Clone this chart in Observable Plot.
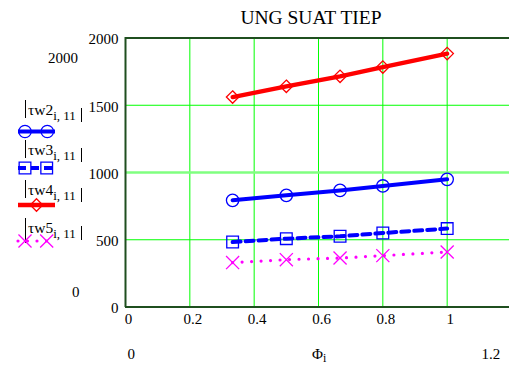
<!DOCTYPE html>
<html>
<head>
<meta charset="utf-8">
<script src="https://cdn.jsdelivr.net/npm/d3@7"></script>
<script src="https://cdn.jsdelivr.net/npm/@observablehq/plot@0.6"></script>
<style>
  html, body { margin: 0; padding: 0; background: #fff; }
  #wrap { position: relative; width: 509px; height: 365px; overflow: hidden; }
  #wrap > svg { position: absolute; left: 0; top: 0; }
  #wrap svg text { font-family: "Liberation Serif", "Times New Roman", serif; }
</style>
</head>
<body>
<div id="wrap"></div>
<script>
// ---- data ----
const phi = [0.333, 0.5, 0.667, 0.8, 1];
const tw2 = [793, 830, 867, 900, 949];
const tw3 = [483, 508, 526, 550, 583];
const tw4 = [1561, 1641, 1715, 1784, 1884];
const tw5 = [330, 352, 364, 382, 409];
const xTicks = [0, 0.2, 0.4, 0.6, 0.8, 1];
const yTicks = [0, 500, 1000, 1500, 2000];
const xGrid = [0.2, 0.4, 0.6, 0.8, 1];
const yGrid = [500, 1500];
const yGridLight = [1000];
const seriesNames = ["τw2", "τw3", "τw4", "τw5"];

const rows = (ys) => phi.map((x, i) => ({x, y: ys[i]}));
const font = "Liberation Serif, Times New Roman, serif";
const frameColor = "#1f4f1f";

const chart = Plot.plot({
  width: 509,
  height: 365,
  marginLeft: 125,
  marginTop: 37,
  marginBottom: 58,
  marginRight: 0,
  style: {background: "white", fontFamily: font, fontSize: "15px", color: "black", overflow: "visible"},
  x: {domain: [0, 1.2], range: [125, 511], label: null},
  y: {domain: [0, 2000], range: [306.5, 37.5], label: null},
  marks: [
    Plot.ruleX(xGrid, {stroke: "#00ff00", strokeWidth: 1}),
    Plot.ruleY(yGrid, {stroke: "#00ff00", strokeWidth: 1}),
    Plot.ruleY(yGridLight, {stroke: "#80ff80", strokeWidth: 2.5}),
    Plot.ruleX([0], {stroke: frameColor, strokeWidth: 2}),
    Plot.ruleY([0, 2000], {stroke: frameColor, strokeWidth: 2}),
    Plot.axisY({ticks: yTicks, tickSize: 0, tickPadding: 7, tickFormat: d => String(d), fontSize: 15, fontFamily: font, dy: 1.5, label: null}),
    Plot.axisX({ticks: xTicks, tickSize: 0, tickPadding: 6, tickFormat: d => String(d), fontSize: 15, fontFamily: font, dx: 3, label: null}),
    // tw4 red
    Plot.line(rows(tw4), {x: "x", y: "y", stroke: "#ff0000", strokeWidth: 4.3}),
    Plot.dot(rows(tw4), {x: "x", y: "y", symbol: "diamond2", r: 5.6, stroke: "#ff0000", strokeWidth: 1.3, fill: "none"}),
    // tw2 blue
    Plot.line(rows(tw2), {x: "x", y: "y", stroke: "#0000ff", strokeWidth: 4}),
    Plot.dot(rows(tw2), {x: "x", y: "y", symbol: "circle", r: 6.2, stroke: "#0000ff", strokeWidth: 1.3, fill: "none"}),
    // tw3 blue dashed
    Plot.line(rows(tw3), {x: "x", y: "y", stroke: "#0000ff", strokeWidth: 4, strokeDasharray: "8,5"}),
    Plot.dot(rows(tw3), {x: "x", y: "y", symbol: "square", r: 6.6, stroke: "#0000ff", strokeWidth: 1.3, fill: "none"}),
    // tw5 magenta dotted
    Plot.line(rows(tw5), {x: "x", y: "y", stroke: "#ff00ff", strokeWidth: 3.2, strokeDasharray: "0,9.5", strokeLinecap: "round"}),
    Plot.dot(rows(tw5), {x: "x", y: "y", symbol: "times", r: 6, stroke: "#ff00ff", strokeWidth: 1.3, fill: "none"})
  ]
});
document.getElementById("wrap").appendChild(chart);

// ---- overlay: title, Mathcad limit labels, axis label, legend ----
const ov = d3.select("#wrap").append("svg")
  .attr("width", 509).attr("height", 365)
  .style("pointer-events", "none");

ov.append("text").attr("x", 311).attr("y", 24).attr("text-anchor", "middle")
  .attr("font-size", 19.5).text("UNG SUAT TIEP");

ov.append("text").attr("x", 48).attr("y", 63).attr("font-size", 15).text("2000");
ov.append("text").attr("x", 72).attr("y", 296.5).attr("font-size", 15).text("0");
ov.append("text").attr("x", 127.5).attr("y", 359).attr("font-size", 15).text("0");
ov.append("text").attr("x", 481.5).attr("y", 359).attr("font-size", 15).text("1.2");

const xl = ov.append("text").attr("x", 312).attr("y", 359).attr("font-size", 15);
xl.append("tspan").text("Φ");
xl.append("tspan").attr("font-size", 12).attr("dy", 3).text("i");

// legend
const legendSpec = [
  {name: seriesNames[0], color: "#0000ff", dash: null, width: 4, symbol: d3.symbolCircle, size: Math.PI * 6.2 * 6.2, marks: [25, 47.3]},
  {name: seriesNames[1], color: "#0000ff", dash: "8,5", width: 4, symbol: d3.symbolSquare, size: Math.PI * 6.6 * 6.6, marks: [25, 46.7]},
  {name: seriesNames[2], color: "#ff0000", dash: null, width: 4.3, symbol: d3.symbolDiamond2, size: Math.PI * 5.6 * 5.6, marks: [36.5]},
  {name: seriesNames[3], color: "#ff00ff", dash: "0,9.5", width: 3.2, symbol: d3.symbolTimes, size: Math.PI * 6 * 6, marks: [25, 46.7]}
];
const baseY = [115, 155, 195, 233];
const lineY = [131.5, 168, 205, 241];
legendSpec.forEach((s, k) => {
  const g = ov.append("g");
  const by = baseY[k];
  g.append("line").attr("x1", 25.5).attr("x2", 25.5).attr("y1", by - 15).attr("y2", by + (k === 3 ? 10 : 3))
    .attr("stroke", "black").attr("stroke-width", 1);
  const t = g.append("text").attr("x", 28).attr("y", by).attr("font-size", 15.5);
  t.append("tspan").text(s.name);
  t.append("tspan").attr("font-size", 13).attr("dy", 5).text("i, 11");
  g.append("line").attr("x1", 81.5).attr("x2", 81.5).attr("y1", by - 7).attr("y2", by + 7)
    .attr("stroke", "black").attr("stroke-width", 1);
  const ly = lineY[k];
  const ln = g.append("line").attr("x1", 18).attr("x2", 55).attr("y1", ly).attr("y2", ly)
    .attr("stroke", s.color).attr("stroke-width", s.width);
  if (s.dash) ln.attr("stroke-dasharray", s.dash).attr("stroke-linecap", s.dash.startsWith("0") ? "round" : "butt");
  s.marks.forEach(mx => {
    g.append("path").attr("d", d3.symbol(s.symbol, s.size)())
      .attr("transform", `translate(${mx},${ly})`)
      .attr("fill", "none").attr("stroke", s.color).attr("stroke-width", 1.3);
  });
});
</script>
</body>
</html>
